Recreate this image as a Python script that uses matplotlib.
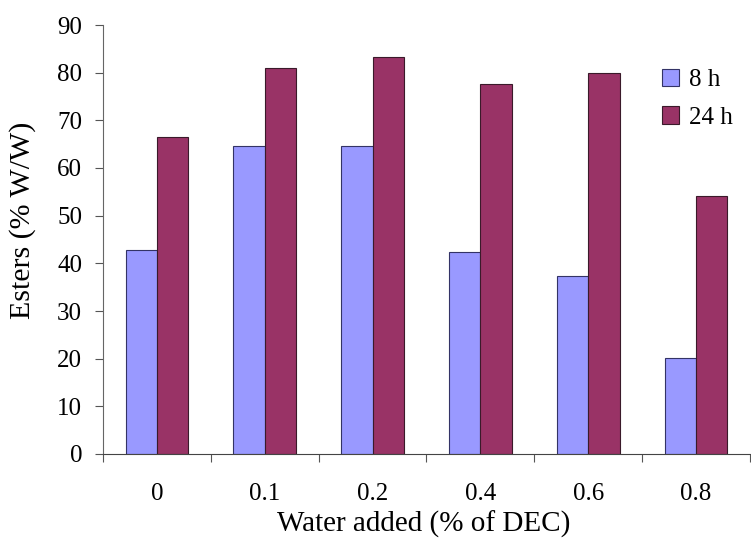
import matplotlib.pyplot as plt
import numpy as np

# data
categories = ["0", "0.1", "0.2", "0.4", "0.6", "0.8"]
esters_8h = [42.7, 64.6, 64.6, 42.4, 37.4, 20.1]
esters_24h = [66.4, 80.9, 83.3, 77.7, 79.9, 54.2]

plt.rcParams['font.family'] = ['Liberation Serif', 'DejaVu Serif']

fig = plt.figure(figsize=(7.51, 5.45), dpi=100)
ax = fig.add_axes([103 / 751, 91 / 545, 647 / 751, 429 / 545])

x = np.arange(len(categories))
w = 0.29
ax.bar(x - w / 2, esters_8h, w, color="#9999FF", edgecolor="#333366", linewidth=0.8, label="8 h")
ax.bar(x + w / 2, esters_24h, w, color="#993366", edgecolor="#3a1a2a", linewidth=0.8, label="24 h")

ax.set_ylim(0, 90)
ax.set_yticks(np.arange(0, 91, 10))
ax.set_xlim(-0.5, len(categories) - 0.5)

# ticks between categories, labels at centres
ax.set_xticks(np.arange(-0.5, len(categories), 1.0))
ax.set_xticklabels([])
ax.set_xticks(x, minor=True)
ax.set_xticklabels(categories, minor=True)
ax.tick_params(axis="x", which="minor", length=0, pad=21, labelsize=18)
ax.tick_params(axis="x", which="major", direction="out", length=6, color="#555555")
ax.tick_params(axis="y", direction="out", length=6, color="#555555", labelsize=18, pad=9)

for s in ["top", "right"]:
    ax.spines[s].set_visible(False)
ax.spines["left"].set_color("#666666")
ax.spines["bottom"].set_color("#444444")

ax.set_xlabel("Water added (% of DEC)", fontsize=21)
ax.xaxis.set_label_coords(0.496, -0.133)
ax.set_ylabel("Esters (% W/W)", fontsize=21.5)
ax.yaxis.set_label_coords(-0.104, 0.545)

ax.legend(loc="upper right", bbox_to_anchor=(1.009, 0.95), frameon=False, fontsize=18,
          handlelength=0.7, handleheight=0.7, handletextpad=0.4, labelspacing=0.6)

fig.savefig("out.png", dpi=100)
